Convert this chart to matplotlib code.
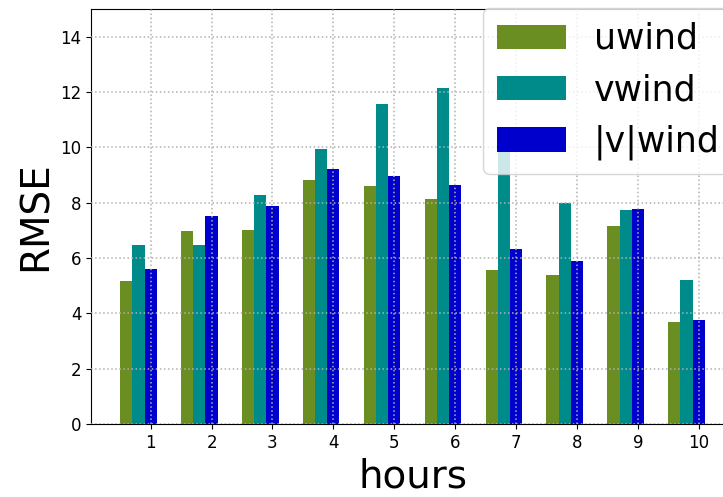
import numpy as np
import matplotlib
matplotlib.use("Agg")
import matplotlib.pyplot as plt

hours = [1, 2, 3, 4, 5, 6, 7, 8, 9, 10]
uwind = [5.18, 6.97, 7.02, 8.83, 8.60, 8.15, 5.56, 5.38, 7.14, 3.70]
vwind = [6.48, 6.48, 8.27, 9.94, 11.58, 12.14, 9.91, 7.98, 7.72, 5.21]
vabs = [5.62, 7.51, 7.88, 9.21, 8.96, 8.65, 6.33, 5.89, 7.77, 3.76]
series_names = ["uwind", "vwind", "|v|wind"]
yticks = [0, 2, 4, 6, 8, 10, 12, 14]

fig = plt.figure(figsize=(7.23, 4.97), dpi=100)
ax = fig.add_axes([91/723, 73/497, (734-91)/723, (488-73)/497])

x = np.array(hours, dtype=float)
w = 0.2
ax.bar(x - 2*w, uwind, w, color="olivedrab", label=series_names[0], zorder=2)
ax.bar(x - w, vwind, w, color="darkcyan", label=series_names[1], zorder=2)
ax.bar(x, vabs, w, color="mediumblue", label=series_names[2], zorder=1)

ax.grid(True, linestyle=":", color="#b0b0b0", linewidth=1.1, zorder=1.5)
ax.set_axisbelow(False)
ax.set_ylim(0, 15)
ax.set_yticks(yticks)
ax.set_xticks(hours)
ax.tick_params(labelsize=12)
ax.set_xlabel("hours", fontsize=28)
ax.set_ylabel("RMSE", fontsize=28)

leg = ax.legend(fontsize=25, loc="upper left",
                bbox_to_anchor=(483/723, 1 - 8/497),
                bbox_transform=fig.transFigure, borderaxespad=0)

fig.savefig("out.png", dpi=100)
